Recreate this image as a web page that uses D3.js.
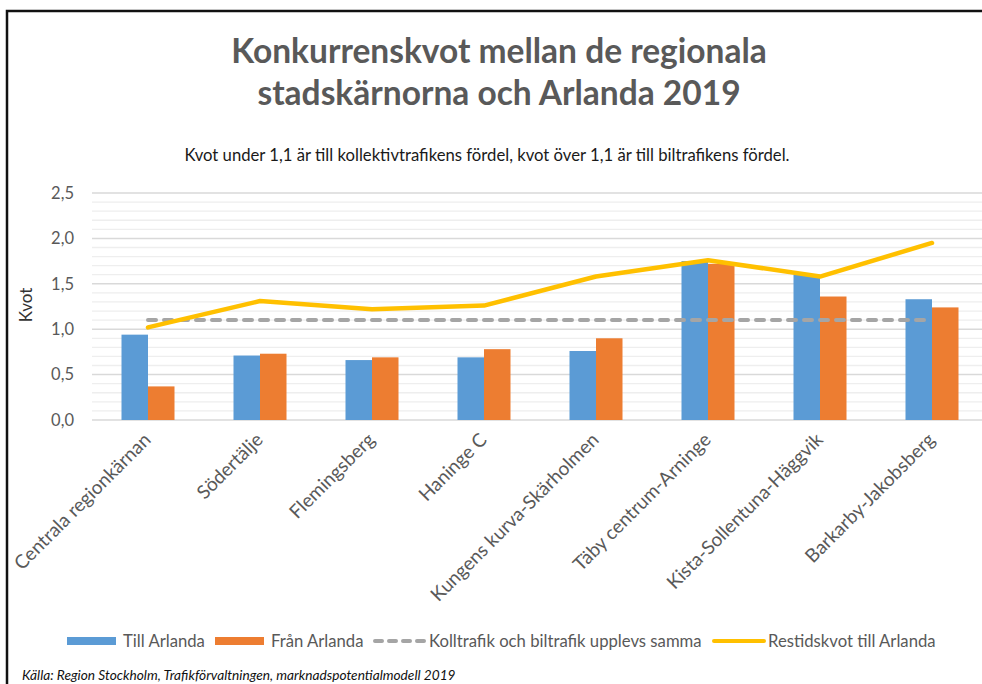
<!DOCTYPE html>
<html>
<head>
<meta charset="utf-8">
<script src="https://cdn.jsdelivr.net/npm/d3@7"></script>
<style>
  body { margin: 0; background: #fff; }
  svg { display: block; font-family: Lato, "Open Sans", sans-serif; }
</style>
</head>
<body>
<svg width="982" height="684"></svg>
<script>
var categories = ["Centrala regionkärnan", "Södertälje", "Flemingsberg", "Haninge C",
  "Kungens kurva-Skärholmen", "Täby centrum-Arninge", "Kista-Sollentuna-Häggvik", "Barkarby-Jakobsberg"];
var tillArlanda = [0.94, 0.71, 0.66, 0.69, 0.76, 1.75, 1.60, 1.33];
var franArlanda = [0.37, 0.73, 0.69, 0.78, 0.90, 1.72, 1.36, 1.24];
var restidskvot = [1.02, 1.31, 1.22, 1.26, 1.58, 1.76, 1.58, 1.95];
var samma = [1.1, 1.1, 1.1, 1.1, 1.1, 1.1, 1.1, 1.1];
var yTicks = [0, 0.5, 1.0, 1.5, 2.0, 2.5];
var seriesNames = ["Till Arlanda", "Från Arlanda"];

var svg = d3.select("svg"),
  width = +svg.attr("width"),
  height = +svg.attr("height");

var grey = "#595959";
var colors = { bar: ["#5B9BD5", "#ED7D31"], dash: "#A5A5A5", line: "#FFC000" };

// ram runt diagrammet
svg.append("rect")
  .attr("x", 7).attr("y", 11)
  .attr("width", width + 20).attr("height", height + 20)
  .attr("fill", "none").attr("stroke", "#111").attr("stroke-width", 2.5);

// rubrik
var title = svg.append("text")
  .attr("text-anchor", "middle")
  .attr("fill", grey)
  .style("font-size", "33.5px").style("font-weight", "bold");
title.append("tspan").attr("x", 499).attr("y", 63).text("Konkurrenskvot mellan de regionala");
title.append("tspan").attr("x", 499).attr("y", 105).text("stadskärnorna och Arlanda 2019");

svg.append("text")
  .attr("x", 487).attr("y", 161)
  .attr("text-anchor", "middle")
  .attr("fill", "#1a1a1a")
  .style("font-size", "16.7px")
  .text("Kvot under 1,1 är till kollektivtrafikens fördel, kvot över 1,1 är till biltrafikens fördel.");

var plot = { left: 92, right: 988, top: 193, bottom: 420 };

var x0 = d3.scaleBand()
  .domain(categories)
  .range([plot.left, plot.right])
  .paddingInner(59 / 112)
  .paddingOuter(59 / 224);

var x1 = d3.scaleBand()
  .domain([0, 1])
  .range([0, x0.bandwidth()]);

var y = d3.scaleLinear()
  .domain([0, 2.5])
  .range([plot.bottom, plot.top]);

var fmt = function (d) { return d3.format(".1f")(d).replace(".", ","); };

// stödlinjer, tunna var 0,1 och tydligare var 0,5
var minor = d3.range(1, 25).filter(function (d) { return d % 5 !== 0; }).map(function (d) { return d / 10; });
svg.append("g").selectAll("line")
  .data(minor)
  .enter().append("line")
  .attr("x1", plot.left).attr("x2", plot.right)
  .attr("y1", function (d) { return y(d); }).attr("y2", function (d) { return y(d); })
  .attr("stroke", "#EEEEEE").attr("stroke-width", 1.3);

svg.append("g").selectAll("line")
  .data(yTicks)
  .enter().append("line")
  .attr("x1", plot.left).attr("x2", plot.right)
  .attr("y1", function (d) { return y(d); }).attr("y2", function (d) { return y(d); })
  .attr("stroke", "#D9D9D9").attr("stroke-width", 1.5);

// y-axel
var yAxis = svg.append("g")
  .attr("transform", "translate(" + (plot.left - 15) + ",0)")
  .call(d3.axisLeft(y).tickValues(yTicks).tickFormat(fmt).tickSize(0));
yAxis.select(".domain").remove();
yAxis.selectAll("text")
  .attr("fill", grey)
  .style("font-size", "16.5px")
  .style("font-family", "Lato, sans-serif");

svg.append("text")
  .attr("transform", "translate(32,305) rotate(-90)")
  .attr("text-anchor", "middle")
  .attr("fill", "#333")
  .style("font-size", "17px")
  .text("Kvot");

// staplar
var rows = categories.map(function (c, i) { return { cat: c, vals: [tillArlanda[i], franArlanda[i]] }; });
var groups = svg.append("g").selectAll("g")
  .data(rows)
  .enter().append("g")
  .attr("transform", function (d) { return "translate(" + x0(d.cat) + ",0)"; });

groups.selectAll("rect")
  .data(function (d) { return d.vals; })
  .enter().append("rect")
  .attr("x", function (d, i) { return x1(i); })
  .attr("y", function (d) { return y(d); })
  .attr("width", x1.bandwidth())
  .attr("height", function (d) { return y(0) - y(d); })
  .attr("fill", function (d, i) { return colors.bar[i]; });

var cx = function (d, i) { return x0(categories[i]) + x0.bandwidth() / 2; };

// streckad linje vid 1,1
svg.append("path")
  .datum(samma)
  .attr("fill", "none")
  .attr("stroke", colors.dash)
  .attr("stroke-width", 4)
  .attr("stroke-dasharray", "8,8")
  .attr("stroke-linecap", "round")
  .attr("d", d3.line().x(cx).y(function (d) { return y(d); }));

// restidskvot
svg.append("path")
  .datum(restidskvot)
  .attr("fill", "none")
  .attr("stroke", colors.line)
  .attr("stroke-width", 4.5)
  .attr("stroke-linecap", "round")
  .attr("stroke-linejoin", "round")
  .attr("d", d3.line().x(cx).y(function (d) { return y(d); }));

// kategorietiketter, snett
svg.append("g").selectAll("text")
  .data(categories)
  .enter().append("text")
  .attr("transform", function (d) {
    return "translate(" + (x0(d) + x0.bandwidth() / 2 + 4) + ",441) rotate(-45)";
  })
  .attr("text-anchor", "end")
  .attr("fill", grey)
  .style("font-size", "19px")
  .text(function (d) { return d; });

// teckenförklaring
var legend = svg.append("g").attr("transform", "translate(0,641)");
var items = [
  { x: 67, label: seriesNames[0], type: "bar", color: colors.bar[0] },
  { x: 215, label: seriesNames[1], type: "bar", color: colors.bar[1] },
  { x: 373, label: "Kolltrafik och biltrafik upplevs samma", type: "dash", color: colors.dash },
  { x: 712, label: "Restidskvot till Arlanda", type: "line", color: colors.line }
];
items.forEach(function (it) {
  if (it.type === "bar") {
    legend.append("rect").attr("x", it.x).attr("y", -4).attr("width", 49).attr("height", 8).attr("fill", it.color);
  } else {
    legend.append("line")
      .attr("x1", it.x + 2).attr("x2", it.x + 52).attr("y1", 0).attr("y2", 0)
      .attr("stroke", it.color).attr("stroke-width", 4)
      .attr("stroke-linecap", "round")
      .attr("stroke-dasharray", it.type === "dash" ? "7,7" : null);
  }
  legend.append("text")
    .attr("x", it.x + 56).attr("y", 6)
    .attr("fill", grey)
    .style("font-size", "16.7px")
    .text(it.label);
});

svg.append("text")
  .attr("x", 22).attr("y", 680)
  .attr("fill", "#111")
  .style("font-size", "13.7px").style("font-style", "italic")
  .text("Källa: Region Stockholm, Trafikförvaltningen, marknadspotentialmodell 2019");
</script>
</body>
</html>
